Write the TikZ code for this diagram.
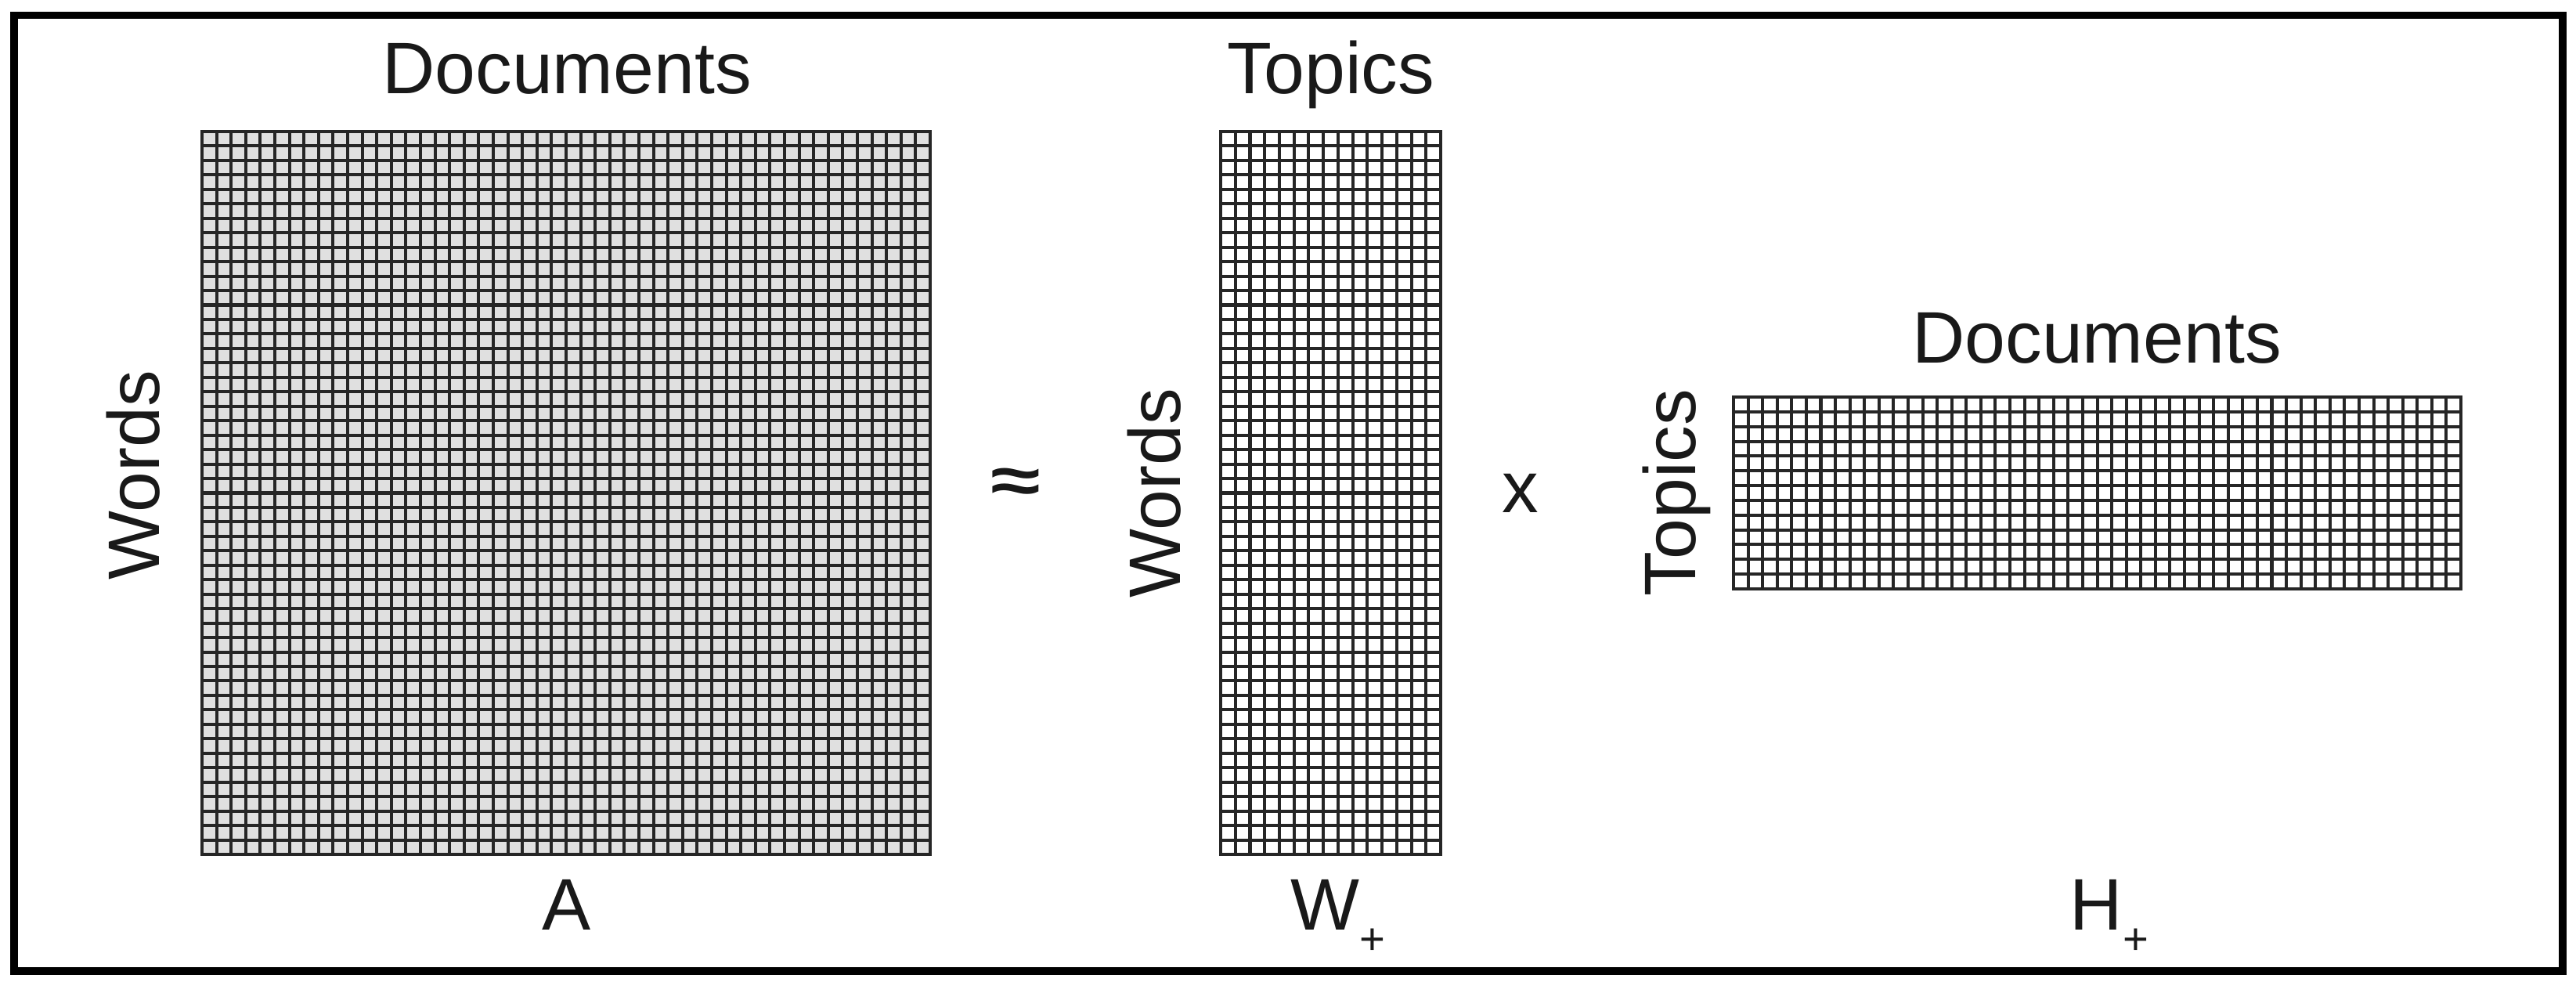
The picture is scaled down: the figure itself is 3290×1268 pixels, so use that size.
\documentclass[tikz,border=0pt]{standalone}
\usepackage{fontspec}
\setmainfont{Liberation Sans}
\newcommand\drawgrid[7]{%
  \fill[#7] (#1,#2) rectangle (#3,#4);
  \pgfmathsetmacro\gdx{(#3-#1)/#5}
  \pgfmathsetmacro\gdy{(#4-#2)/#6}
  \pgfmathtruncatemacro\gnx{#5-1}
  \pgfmathtruncatemacro\gny{#6-1}
  \foreach \i in {1,...,\gnx} \draw[gridline] ({#1+\i*\gdx},#2) -- ({#1+\i*\gdx},#4);
  \foreach \j in {1,...,\gny} \draw[gridline] (#1,{#2+\j*\gdy}) -- (#3,{#2+\j*\gdy});
  \draw[gridline] (#1,#2) rectangle (#3,#4);
}
\begin{document}
\begin{tikzpicture}[x=0.01cm,y=-0.01cm,
  gridline/.style={draw=black!85, line width=1.15pt},
  lbl/.style={font=\fontsize{26.5}{30}\selectfont, inner sep=0pt, text=black!90}]
\useasboundingbox (0,0) rectangle (3290,1268);
\draw[line width=2.6pt] (18,19.5) rectangle (3273,1240);
% matrix A
\drawgrid{258}{168}{1188}{1091}{50}{50}{black!12}
% matrix W
\drawgrid{1559}{168}{1840}{1091}{15}{50}{white}
% matrix H
\drawgrid{2214}{507}{3143}{752}{50}{13}{white}
% labels
\node[lbl, anchor=base] (docA) at (724,120) {Documents};
\node[lbl, anchor=base, rotate=90] (wordsA) at (203,607) {Words};
\node[lbl, anchor=base] (labA) at (724,1188) {A};
\node[lbl, font=\fontsize{30}{30}\selectfont\bfseries] (approx) at (1297,620) {\scalebox{1.1}[0.8]{≈}};
\node[lbl, anchor=base] (topW) at (1700,120) {Topics};
\node[lbl, anchor=base, rotate=90] (wordsW) at (1507,630) {Words};
\node[lbl] (times) at (1942,630) {x};
\node[lbl, anchor=base west] (labW) at (1648,1188) {W\raisebox{-8.8pt}{\fontsize{16}{16}\selectfont +}};
\node[lbl, anchor=base] (docH) at (2678,464) {Documents};
\node[lbl, anchor=base, rotate=90] (topH) at (2165,629) {Topics};
\node[lbl, anchor=base west] (labH) at (2643,1188) {H\raisebox{-8.8pt}{\fontsize{16}{16}\selectfont +}};
\end{tikzpicture}
\end{document}
